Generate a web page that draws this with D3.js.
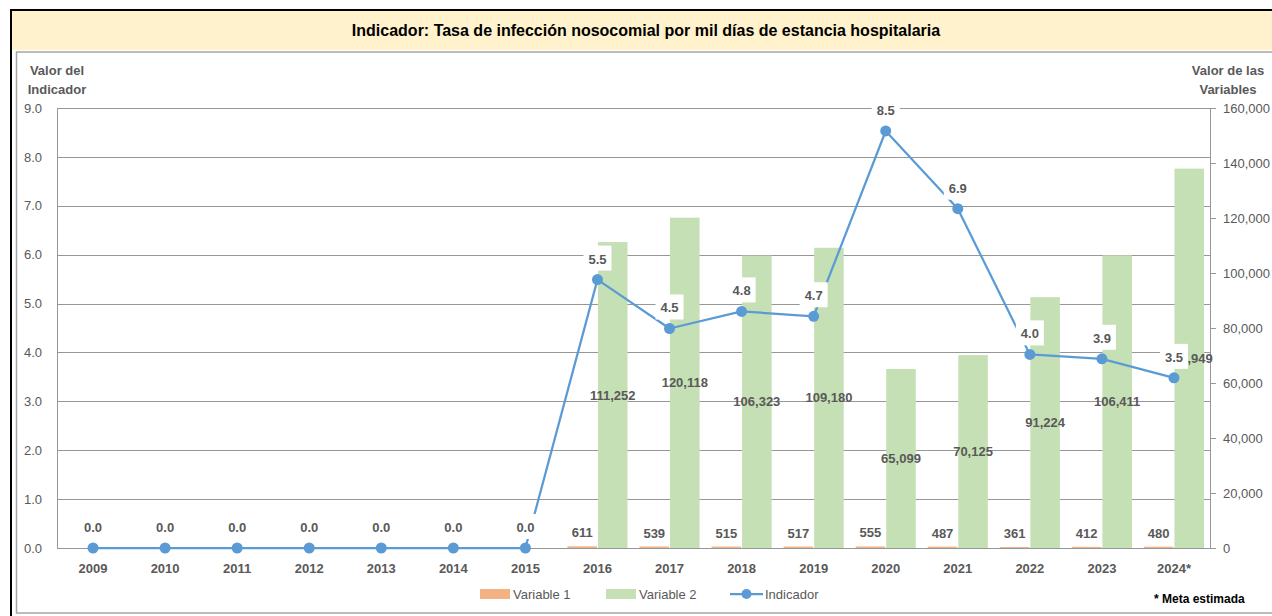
<!DOCTYPE html>
<html>
<head>
<meta charset="utf-8">
<script src="https://cdn.jsdelivr.net/npm/d3@7"></script>
<style>
  html, body { margin: 0; padding: 0; background: #fff; }
  svg { display: block; font-family: "Liberation Sans", Arial, sans-serif; }
</style>
</head>
<body>
<svg id="chart" width="1272" height="616"></svg>
<script>
// ---- data ----
const categories = ["2009","2010","2011","2012","2013","2014","2015","2016","2017","2018","2019","2020","2021","2022","2023","2024*"];
const variable1 = [null,null,null,null,null,null,null,611,539,515,517,555,487,361,412,480];
const variable2 = [null,null,null,null,null,null,null,111252,120118,106323,109180,65099,70125,91224,106411,137949];
const indicador = [0,0,0,0,0,0,0,5.49,4.49,4.84,4.74,8.53,6.94,3.96,3.87,3.48];
const leftTicks = [0,1,2,3,4,5,6,7,8,9];
const rightTicks = [0,20000,40000,60000,80000,100000,120000,140000,160000];
const titleText = "Indicador: Tasa de infección nosocomial por mil días de estancia hospitalaria";
const legendItems = ["Variable 1", "Variable 2", "Indicador"];
const footnote = "* Meta estimada";

// ---- layout ----
const W = 1272, H = 616;
const plot = { left: 57, right: 1210, top: 108, bottom: 548 };
const textGray = "#595959";
const gridGray = "#979797";
const orange = "#F4B183", green = "#C5E0B4", blue = "#5B9BD5";

const svg = d3.select("#chart");

// frames
svg.append("rect").attr("x", 0).attr("y", 0).attr("width", W).attr("height", H).attr("fill", "#fff");
svg.append("rect").attr("x", 11).attr("y", 10).attr("width", W + 20).attr("height", H + 20)
  .attr("fill", "#fff").attr("stroke", "#000").attr("stroke-width", 2);
svg.append("rect").attr("x", 12).attr("y", 11).attr("width", W).attr("height", 39).attr("fill", "#FFF2CC");
svg.append("rect").attr("x", 16.5).attr("y", 52).attr("width", W + 20).attr("height", 561)
  .attr("fill", "#fff").attr("stroke", "#A6A6A6").attr("stroke-width", 1.5);

svg.append("text").attr("x", 646).attr("y", 36).attr("text-anchor", "middle")
  .attr("font-size", 16).attr("font-weight", "bold").attr("fill", "#000").text(titleText);

// scales
const x = d3.scaleBand().domain(categories).range([plot.left, plot.right]).paddingInner(0).paddingOuter(0);
const yL = d3.scaleLinear().domain([0, 9]).range([plot.bottom, plot.top]);
const yR = d3.scaleLinear().domain([0, 160000]).range([plot.bottom, plot.top]);
const cx = c => x(c) + x.bandwidth() / 2;
const barW = x.bandwidth() * 0.41;

// gridlines
svg.append("g").selectAll("line").data(leftTicks).join("line")
  .attr("x1", plot.left).attr("x2", plot.right)
  .attr("y1", d => Math.round(yL(d)) + 0.5).attr("y2", d => Math.round(yL(d)) + 0.5)
  .attr("stroke", gridGray).attr("stroke-width", 1);

// left axis
const gL = svg.append("g").attr("transform", `translate(${plot.left},0)`)
  .call(d3.axisLeft(yL).tickValues(leftTicks).tickSize(0).tickPadding(15).tickFormat(d3.format(".1f")));
gL.select(".domain").attr("stroke", gridGray);
gL.selectAll("text").attr("font-size", 13).attr("fill", textGray).attr("font-family", "Liberation Sans, Arial, sans-serif");

// right axis
const gR = svg.append("g").attr("transform", `translate(${plot.right},0)`)
  .call(d3.axisRight(yR).tickValues(rightTicks).tickSize(6).tickPadding(7).tickFormat(d3.format(",")));
gR.select(".domain").attr("stroke", gridGray);
gR.selectAll(".tick line").attr("stroke", gridGray);
gR.selectAll("text").attr("font-size", 13).attr("fill", textGray).attr("font-family", "Liberation Sans, Arial, sans-serif");

// bottom axis
const gB = svg.append("g").attr("transform", `translate(0,${plot.bottom})`)
  .call(d3.axisBottom(x).tickSize(0).tickPadding(16));
gB.select(".domain").attr("stroke", gridGray);
gB.selectAll("text").attr("font-size", 13).attr("font-weight", "bold").attr("fill", textGray)
  .attr("font-family", "Liberation Sans, Arial, sans-serif");

// axis titles
const axT = svg.append("g").attr("font-size", 13).attr("font-weight", "bold").attr("fill", textGray).attr("text-anchor", "middle");
axT.append("text").attr("x", 57).attr("y", 75).text("Valor del");
axT.append("text").attr("x", 57).attr("y", 94).text("Indicador");
axT.append("text").attr("x", 1228).attr("y", 75).text("Valor de las");
axT.append("text").attr("x", 1228).attr("y", 94).text("Variables");

// bars
const v1 = categories.map((c, i) => ({ c, v: variable1[i] })).filter(d => d.v != null);
const v2 = categories.map((c, i) => ({ c, v: variable2[i] })).filter(d => d.v != null);

svg.append("g").selectAll("rect").data(v1).join("rect")
  .attr("x", d => cx(d.c) - barW - 0.5).attr("width", barW)
  .attr("y", d => yR(d.v)).attr("height", d => plot.bottom - yR(d.v))
  .attr("fill", orange);
svg.append("g").selectAll("rect").data(v2).join("rect")
  .attr("x", d => cx(d.c) + 0.5).attr("width", barW)
  .attr("y", d => yR(d.v)).attr("height", d => plot.bottom - yR(d.v))
  .attr("fill", green);

// bar labels
svg.append("g").selectAll("text").data(v1).join("text")
  .attr("x", d => cx(d.c) - barW / 2 - 0.5).attr("y", d => yR(d.v) - 9)
  .attr("text-anchor", "middle").attr("font-size", 13).attr("font-weight", "bold").attr("fill", textGray)
  .text(d => d3.format(",")(d.v));
svg.append("g").selectAll("text").data(v2).join("text")
  .attr("x", d => cx(d.c) + barW / 2 + 0.5).attr("y", d => (yR(d.v) + plot.bottom) / 2)
  .attr("dy", "0.35em")
  .attr("text-anchor", "middle").attr("font-size", 13).attr("font-weight", "bold").attr("fill", textGray)
  .text(d => d3.format(",")(d.v));

// indicator line
const ind = categories.map((c, i) => ({ c, v: indicador[i] }));
svg.append("path").datum(ind)
  .attr("d", d3.line().x(d => cx(d.c)).y(d => yL(d.v)))
  .attr("fill", "none").attr("stroke", blue).attr("stroke-width", 2.25).attr("stroke-linejoin", "round");
svg.append("g").selectAll("circle").data(ind).join("circle")
  .attr("cx", d => cx(d.c)).attr("cy", d => yL(d.v)).attr("r", 5.5).attr("fill", blue);

// indicator labels with white boxes
const lab = svg.append("g").selectAll("g").data(ind).join("g")
  .attr("transform", d => `translate(${cx(d.c)},${yL(d.v) - 16})`);
lab.append("rect").attr("x", -14).attr("y", -18).attr("width", 28).attr("height", 25).attr("fill", "#fff");
lab.append("text").attr("text-anchor", "middle").attr("font-size", 13).attr("font-weight", "bold")
  .attr("fill", textGray).text(d => d.v.toFixed(1));

// legend
const leg = svg.append("g").attr("font-size", 13).attr("fill", textGray);
leg.append("rect").attr("x", 480).attr("y", 589).attr("width", 30).attr("height", 10).attr("fill", orange);
leg.append("text").attr("x", 513).attr("y", 599).text(legendItems[0]);
leg.append("rect").attr("x", 606).attr("y", 589).attr("width", 30).attr("height", 10).attr("fill", green);
leg.append("text").attr("x", 639).attr("y", 599).text(legendItems[1]);
leg.append("line").attr("x1", 730).attr("x2", 763).attr("y1", 594).attr("y2", 594).attr("stroke", blue).attr("stroke-width", 2.25);
leg.append("circle").attr("cx", 746.5).attr("cy", 594).attr("r", 5).attr("fill", blue);
leg.append("text").attr("x", 765).attr("y", 599).text(legendItems[2]);

svg.append("text").attr("x", 1154).attr("y", 603).attr("font-size", 12).attr("font-weight", "bold")
  .attr("fill", "#000").text(footnote);
</script>
</body>
</html>
